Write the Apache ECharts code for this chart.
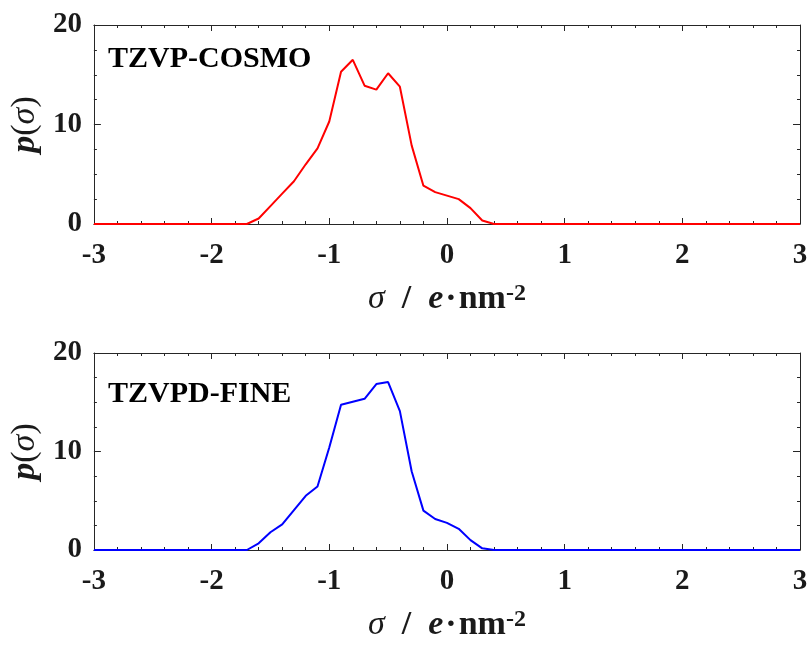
<!DOCTYPE html>
<html>
<head>
<meta charset="utf-8">
<script src="https://cdn.jsdelivr.net/npm/echarts@6/dist/echarts.min.js"></script>
<style>
  html, body { margin: 0; padding: 0; background: #fff; }
  #main { width: 811px; height: 645px; }
</style>
</head>
<body>
<div id="main"></div>
<script>
var myChart = echarts.init(document.getElementById('main'));

// sigma grid, -3 .. 3 step 0.1
var sigma = [-3.0, -2.9, -2.8, -2.7, -2.6, -2.5, -2.4, -2.3, -2.2, -2.1,
  -2.0, -1.9, -1.8, -1.7, -1.6, -1.5, -1.4, -1.3, -1.2, -1.1,
  -1.0, -0.9, -0.8, -0.7, -0.6, -0.5, -0.4, -0.3, -0.2, -0.1,
  0.0, 0.1, 0.2, 0.3, 0.4, 0.5, 0.6, 0.7, 0.8, 0.9,
  1.0, 1.1, 1.2, 1.3, 1.4, 1.5, 1.6, 1.7, 1.8, 1.9,
  2.0, 2.1, 2.2, 2.3, 2.4, 2.5, 2.6, 2.7, 2.8, 2.9, 3.0];

// p(sigma) TZVP-COSMO
var pCosmo = [0, 0, 0, 0, 0, 0, 0, 0, 0, 0,
  0, 0, 0, 0, 0.55, 1.8, 3.05, 4.3, 6.0, 7.6,
  10.3, 15.3, 16.5, 13.9, 13.5, 15.15, 13.8, 7.9, 3.85, 3.2,
  2.85, 2.5, 1.6, 0.35, 0, 0, 0, 0, 0, 0,
  0, 0, 0, 0, 0, 0, 0, 0, 0, 0,
  0, 0, 0, 0, 0, 0, 0, 0, 0, 0, 0];

// p(sigma) TZVPD-FINE
var pFine = [0, 0, 0, 0, 0, 0, 0, 0, 0, 0,
  0, 0, 0, 0, 0.68, 1.8, 2.6, 4.05, 5.5, 6.45,
  10.4, 14.75, 15.05, 15.35, 16.85, 17.05, 14.1, 8.0, 4.0, 3.15,
  2.75, 2.15, 1.0, 0.17, 0, 0, 0, 0, 0, 0,
  0, 0, 0, 0, 0, 0, 0, 0, 0, 0,
  0, 0, 0, 0, 0, 0, 0, 0, 0, 0, 0];

var panelNames = ['TZVP-COSMO', 'TZVPD-FINE'];
var xTicks = [-3, -2, -1, 0, 1, 2, 3];
var yTicks = [0, 10, 20];

var FONT = "'Liberation Serif', 'Times New Roman', serif";
var AXC = '#262626';
var TXT = '#1a1a1a';

function pairs(ys) {
  return sigma.map(function (x, i) { return [x, ys[i]]; });
}

function xAxisFor(gridIndex, pos) {
  var bottom = pos === 'bottom';
  return {
    type: 'value',
    gridIndex: gridIndex,
    position: pos,
    min: xTicks[0],
    max: xTicks[xTicks.length - 1],
    interval: 1,
    axisLine: { show: true, onZero: false, lineStyle: { color: AXC, width: 1 } },
    axisTick: { show: true, inside: true, length: 6, lineStyle: { color: AXC } },
    minorTick: { show: true, splitNumber: 5, length: 3, lineStyle: { color: AXC } },
    splitLine: { show: false },
    axisLabel: {
      show: bottom,
      margin: 17,
      color: TXT,
      fontFamily: FONT,
      fontWeight: 'bold',
      fontSize: 29
    },
    // σ / e·nm^-2
    name: bottom ? '{i|σ}{b|  /  }{bi|e}{d|·}{b|nm}{sup|-2}' : '',
    nameLocation: 'middle',
    nameGap: 58,
    nameTextStyle: {
      rich: {
        i: { fontFamily: FONT, fontStyle: 'italic', fontSize: 34, color: TXT },
        b: { fontFamily: FONT, fontWeight: 'bold', fontSize: 34, color: TXT },
        d: { fontFamily: FONT, fontWeight: 'bold', fontSize: 34, color: TXT, padding: [0, 2, 0, 2] },
        bi: { fontFamily: FONT, fontWeight: 'bold', fontStyle: 'italic', fontSize: 34, color: TXT },
        sup: { fontFamily: FONT, fontWeight: 'bold', fontSize: 24, color: TXT, verticalAlign: 'top' }
      }
    }
  };
}

function yAxisFor(gridIndex, pos) {
  var left = pos === 'left';
  return {
    type: 'value',
    gridIndex: gridIndex,
    position: pos,
    min: yTicks[0],
    max: yTicks[yTicks.length - 1],
    interval: 10,
    axisLine: { show: true, onZero: false, lineStyle: { color: AXC, width: 1 } },
    axisTick: { show: true, inside: true, length: 7, lineStyle: { color: AXC } },
    minorTick: { show: true, splitNumber: 4, length: 3, lineStyle: { color: AXC } },
    splitLine: { show: false },
    axisLabel: {
      show: left,
      margin: 12,
      color: TXT,
      fontFamily: FONT,
      fontWeight: 'bold',
      fontSize: 29
    },
    name: left ? '{p|p}{r|(}{s|σ}{r|)}' : '',
    nameLocation: 'middle',
    nameRotate: 90,
    nameGap: 47,
    nameTextStyle: {
      rich: {
        p: { fontFamily: FONT, fontWeight: 'bold', fontStyle: 'italic', fontSize: 34, color: TXT },
        r: { fontFamily: FONT, fontSize: 34, color: TXT },
        s: { fontFamily: FONT, fontStyle: 'italic', fontSize: 34, color: TXT }
      }
    }
  };
}

var option = {
  backgroundColor: '#ffffff',
  animation: false,
  grid: [
    { left: 89, top: 25, width: 711, height: 199 },
    { left: 89, top: 353, width: 711, height: 197 }
  ],
  xAxis: [xAxisFor(0, 'bottom'), xAxisFor(0, 'top'), xAxisFor(1, 'bottom'), xAxisFor(1, 'top')],
  yAxis: [yAxisFor(0, 'left'), yAxisFor(0, 'right'), yAxisFor(1, 'left'), yAxisFor(1, 'right')],
  graphic: [
    {
      type: 'text', left: 108, top: 44,
      style: { text: panelNames[0], font: 'bold 30px ' + FONT, fill: '#000' }
    },
    {
      type: 'text', left: 108, top: 379,
      style: { text: panelNames[1], font: 'bold 30px ' + FONT, fill: '#000' }
    }
  ],
  series: [
    {
      name: panelNames[0],
      type: 'line',
      xAxisIndex: 0,
      yAxisIndex: 0,
      data: pairs(pCosmo),
      showSymbol: false,
      lineStyle: { color: '#ff0000', width: 2 },
      z: 5
    },
    {
      name: panelNames[1],
      type: 'line',
      xAxisIndex: 2,
      yAxisIndex: 2,
      data: pairs(pFine),
      showSymbol: false,
      lineStyle: { color: '#0000ff', width: 2 },
      z: 5
    }
  ]
};

myChart.setOption(option);
</script>
</body>
</html>
